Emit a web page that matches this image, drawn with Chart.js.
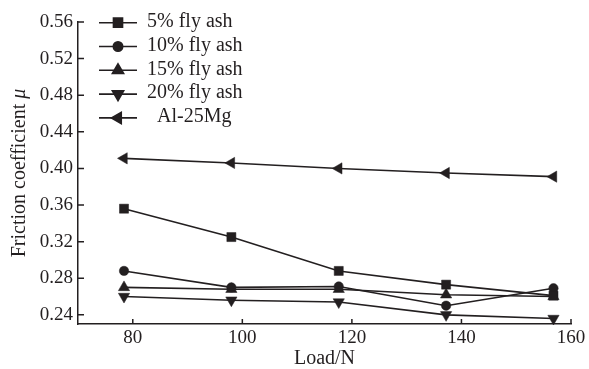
<!DOCTYPE html>
<html>
<head>
<meta charset="utf-8">
<script src="https://cdn.jsdelivr.net/npm/chart.js@4/dist/chart.umd.min.js"></script>
<style>
  html, body { margin: 0; padding: 0; background: #fff; }
  #wrap { width: 589px; height: 369px; }
</style>
</head>
<body>
<div id="wrap"><canvas id="c" width="589" height="369"></canvas></div>
<script>
// ---- data ----
const loads = [78.4, 98, 117.6, 137.2, 156.8];
const seriesNames = ['5% fly ash', '10% fly ash', '15% fly ash', '20% fly ash', 'Al-25Mg'];
const flyAsh5  = [0.356, 0.325, 0.288, 0.273, 0.261];
const flyAsh10 = [0.288, 0.270, 0.271, 0.250, 0.269];
const flyAsh15 = [0.270, 0.268, 0.268, 0.262, 0.260];
const flyAsh20 = [0.260, 0.256, 0.254, 0.240, 0.236];
const al25Mg   = [0.411, 0.406, 0.400, 0.395, 0.391];
const xTicks = [80, 100, 120, 140, 160];
const yTicks = [0.24, 0.28, 0.32, 0.36, 0.40, 0.44, 0.48, 0.52, 0.56];
const yTitleMain = 'Friction coefficient ';
const yTitleSymbol = 'μ';

// ---- styles ----
const INK = '#231f20';
const FONT = '"Liberation Serif", "Times New Roman", serif';
const markers = [
  { pointStyle: 'rect', radius: 6.4, rotation: 0 },
  { pointStyle: 'circle', radius: 4.7, rotation: 0 },
  { pointStyle: 'triangle', radius: 6.5, rotation: 0 },
  { pointStyle: 'triangle', radius: 6.5, rotation: 180 },
  { pointStyle: 'triangle', radius: 6.5, rotation: 270 }
];
const allSeries = [flyAsh5, flyAsh10, flyAsh15, flyAsh20, al25Mg];

const datasets = allSeries.map((vals, i) => ({
  label: seriesNames[i],
  data: vals.map((v, j) => ({ x: loads[j], y: v })),
  borderColor: INK,
  backgroundColor: INK,
  borderWidth: 1.6,
  pointStyle: markers[i].pointStyle,
  pointRadius: markers[i].radius,
  pointRotation: markers[i].rotation,
  pointBorderWidth: 0.5,
  tension: 0,
  showLine: true,
  clip: false
}));

// inward tick marks, drawn from the scales
const inwardTicks = {
  id: 'inwardTicks',
  afterDraw(chart) {
    const ctx = chart.ctx;
    const xs = chart.scales.x, ys = chart.scales.y;
    const a = chart.chartArea;
    ctx.save();
    ctx.strokeStyle = INK;
    ctx.lineWidth = 1.5;
    ctx.beginPath();
    xTicks.forEach(v => {
      const px = xs.getPixelForValue(v);
      ctx.moveTo(px, a.bottom);
      ctx.lineTo(px, a.bottom - 5);
    });
    yTicks.forEach(v => {
      const py = ys.getPixelForValue(v);
      ctx.moveTo(a.left, py);
      ctx.lineTo(a.left + 6, py);
    });
    ctx.stroke();
    ctx.restore();
  }
};

// y-axis title with italic symbol
const yTitle = {
  id: 'yTitle',
  afterDraw(chart) {
    const ctx = chart.ctx;
    const a = chart.chartArea;
    ctx.save();
    ctx.fillStyle = INK;
    ctx.textBaseline = 'middle';
    ctx.textAlign = 'left';
    const f1 = '20px ' + FONT, f2 = 'italic 20px ' + FONT;
    ctx.font = f1; const w1 = ctx.measureText(yTitleMain).width;
    ctx.font = f2; const w2 = ctx.measureText(yTitleSymbol).width;
    const total = w1 + w2;
    ctx.translate(20, (a.top + a.bottom) / 2);
    ctx.rotate(-Math.PI / 2);
    ctx.font = f1; ctx.fillText(yTitleMain, -total / 2, 0);
    ctx.font = f2; ctx.fillText(yTitleSymbol, -total / 2 + w1, 0);
    ctx.restore();
  }
};

// legend with line + marker inside the plot area
const lineLegend = {
  id: 'lineLegend',
  afterDraw(chart) {
    const ctx = chart.ctx;
    ctx.save();
    chart.data.datasets.forEach((ds, i) => {
      const y = 22.7 + i * 23.8;
      ctx.strokeStyle = INK;
      ctx.fillStyle = INK;
      ctx.lineWidth = 1.6;
      ctx.beginPath();
      ctx.moveTo(99, y);
      ctx.lineTo(137, y);
      ctx.stroke();
      Chart.helpers.drawPoint(ctx, {
        pointStyle: markers[i].pointStyle,
        radius: markers[i].radius,
        rotation: markers[i].rotation,
        borderWidth: 0.5
      }, 118, y);
      ctx.fillStyle = INK;
      ctx.font = '20px ' + FONT;
      ctx.textAlign = 'left';
      ctx.textBaseline = 'middle';
      ctx.fillText(ds.label, i === 4 ? 157 : 147, y - 1);
    });
    ctx.restore();
  }
};

new Chart(document.getElementById('c'), {
  type: 'scatter',
  data: { datasets },
  plugins: [inwardTicks, yTitle, lineLegend],
  options: {
    responsive: false,
    animation: false,
    devicePixelRatio: 1,
    layout: { padding: { left: 0, right: 18, top: 22, bottom: 0 } },
    plugins: { legend: { display: false }, tooltip: { enabled: false } },
    scales: {
      x: {
        type: 'linear',
        min: 70, max: 160,
        afterBuildTicks: s => { s.ticks = xTicks.map(v => ({ value: v })); },
        afterFit: s => { s.height = 45; },
        grid: { display: true, drawOnChartArea: false, drawTicks: false },
        border: { display: true, color: INK, width: 1.5 },
        ticks: { color: INK, font: { family: FONT, size: 19 }, padding: 3, maxRotation: 0 },
        title: { display: true, text: 'Load/N', color: INK, font: { family: FONT, size: 20, lineHeight: 1 }, padding: { top: 0, bottom: 0 } }
      },
      y: {
        type: 'linear',
        min: 0.23, max: 0.56,
        afterBuildTicks: s => { s.ticks = yTicks.map(v => ({ value: v })); },
        afterFit: s => { s.width = 78; },
        grid: { display: true, drawOnChartArea: false, drawTicks: false },
        border: { display: true, color: INK, width: 1.5 },
        ticks: { color: INK, font: { family: FONT, size: 19 }, padding: 5,
                 callback: v => v.toFixed(2) },
        title: { display: false }
      }
    }
  }
});
</script>
</body>
</html>
